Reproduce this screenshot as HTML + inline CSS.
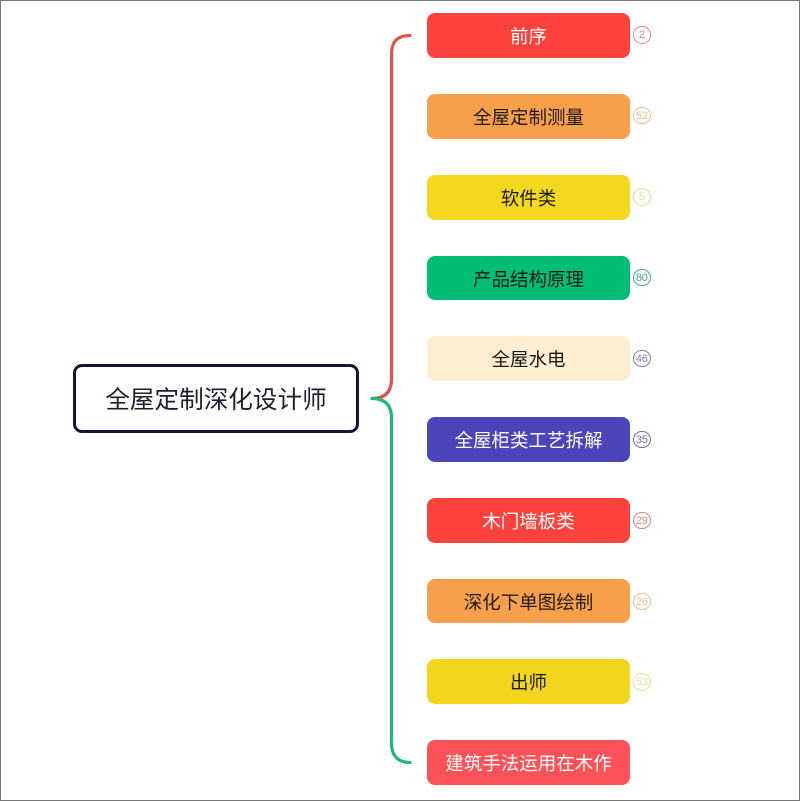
<!DOCTYPE html>
<html lang="zh"><head><meta charset="utf-8"><title>全屋定制深化设计师</title>
<style>
html,body{margin:0;padding:0;background:#fff}
#p{position:relative;width:800px;height:801px;overflow:hidden;background:#fff;font-family:"Liberation Sans","Noto Sans CJK SC",sans-serif}
#f{position:absolute;left:0;top:0;width:798px;height:799px;border:1px solid #777}
#c{position:absolute;left:0;top:0;width:800px;height:801px;filter:blur(.35px)}
.n{position:absolute;left:427px;width:203px;height:44.5px;border-radius:8px;text-align:center;line-height:47px;font-size:18.5px;white-space:nowrap}
.w{color:#fff}.d{color:#1c1a14}
.b{position:absolute;left:633px;width:15.5px;height:15.5px;border:1.4px solid;border-radius:50%;background:#fff;text-align:center;line-height:17px;font-size:11px;letter-spacing:-.3px}
#r{position:absolute;left:73px;top:364px;width:280px;height:63px;border:3px solid #14143a;border-radius:9px;background:#fff;color:#1e1e30;text-align:center;line-height:67px;font-size:24.6px;white-space:nowrap}
svg{position:absolute;left:0;top:0}
</style></head><body><div id="p">
<div id="f"></div>
<div id="c">
<svg width="800" height="801" fill="none" stroke-width="3.2" stroke-linecap="round">
<path d="M410 35.500C398 35.500 391.500 41 391.500 54V379C391.500 392 385 398.500 372 398.500" stroke="#e0544e"/>
<path d="M372 398.500C385 398.500 391.500 405 391.500 418V743C391.500 756 398 762.500 410 762.500" stroke="#1cb97f"/>
</svg>
<div id="r">全屋定制深化设计师</div>
<div class="n w" style="top:13px;background:#fb423d">前序</div>
<div class="n d" style="top:94px;background:#f79f4a">全屋定制测量</div>
<div class="n d" style="top:175px;background:#f4d81f">软件类</div>
<div class="n d" style="top:255.500px;background:#02bd75">产品结构原理</div>
<div class="n d" style="top:336px;background:#fdeed2">全屋水电</div>
<div class="n w" style="top:417px;background:#4b44bb">全屋柜类工艺拆解</div>
<div class="n w" style="top:498px;background:#fb423d">木门墙板类</div>
<div class="n d" style="top:578.500px;background:#f79f4a">深化下单图绘制</div>
<div class="n d" style="top:659px;background:#f2d61e">出师</div>
<div class="n w" style="top:740px;background:#fb5257">建筑手法运用在木作</div>
<div class="b" style="top:26px;color:#d98682;border-color:#d98682">2</div>
<div class="b" style="top:106.500px;color:#e8c294;border-color:#e8c294">52</div>
<div class="b" style="top:188px;color:#eadf8a;border-color:#eadf8a">5</div>
<div class="b" style="top:268.500px;color:#45a888;border-color:#45a888">80</div>
<div class="b" style="top:349.500px;color:#7b7fc0;border-color:#7b7fc0">46</div>
<div class="b" style="top:430.500px;color:#6c6ca8;border-color:#6c6ca8">35</div>
<div class="b" style="top:511.500px;color:#d98682;border-color:#d98682">29</div>
<div class="b" style="top:592.500px;color:#e8c294;border-color:#e8c294">26</div>
<div class="b" style="top:673px;color:#eadf8a;border-color:#eadf8a">53</div>
</div>
</div></body></html>
